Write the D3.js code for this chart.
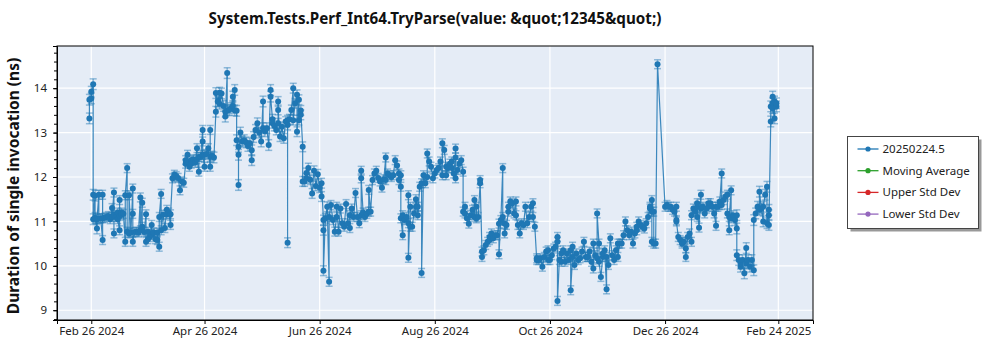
<!DOCTYPE html>
<html>
<head>
<meta charset="utf-8">
<script src="https://cdn.jsdelivr.net/npm/d3@7"></script>
<style>
  body { margin: 0; background: #fff; }
  svg { font-family: "Noto Sans", "Open Sans", sans-serif; }
</style>
</head>
<body>
<div id="chart"></div>
<script>
// one entry per day that had runs; durations[i] holds the runs of runDates[i] (ns)
var runDates = [
  "2024-02-25","2024-02-26","2024-02-27","2024-02-28","2024-02-29",
  "2024-03-01","2024-03-02","2024-03-03","2024-03-04","2024-03-05","2024-03-06","2024-03-07","2024-03-08","2024-03-09","2024-03-10","2024-03-11","2024-03-12","2024-03-13","2024-03-14","2024-03-15",
  "2024-03-16","2024-03-17","2024-03-18","2024-03-19","2024-03-20","2024-03-21","2024-03-22","2024-03-23","2024-03-24","2024-03-25","2024-03-26","2024-03-27","2024-03-28","2024-03-29","2024-03-30","2024-03-31",
  "2024-04-01","2024-04-02","2024-04-03","2024-04-04","2024-04-05","2024-04-06","2024-04-07","2024-04-08","2024-04-09","2024-04-10","2024-04-11","2024-04-12","2024-04-13","2024-04-14","2024-04-15",
  "2024-04-16","2024-04-17","2024-04-18","2024-04-19","2024-04-20","2024-04-21","2024-04-22","2024-04-23","2024-04-24","2024-04-25","2024-04-26","2024-04-27","2024-04-28","2024-04-29","2024-04-30",
  "2024-05-01","2024-05-02","2024-05-03","2024-05-04","2024-05-05","2024-05-06","2024-05-07","2024-05-08","2024-05-09","2024-05-10","2024-05-11","2024-05-12","2024-05-13","2024-05-14","2024-05-15",
  "2024-05-16","2024-05-17","2024-05-18","2024-05-19","2024-05-20","2024-05-21","2024-05-22","2024-05-23","2024-05-24","2024-05-25","2024-05-26","2024-05-27","2024-05-28","2024-05-29","2024-05-30","2024-05-31",
  "2024-06-01","2024-06-02","2024-06-03","2024-06-04","2024-06-05","2024-06-06","2024-06-07","2024-06-08","2024-06-09","2024-06-10","2024-06-11","2024-06-12","2024-06-13","2024-06-14","2024-06-15",
  "2024-06-16","2024-06-17","2024-06-18","2024-06-19","2024-06-20","2024-06-21","2024-06-22","2024-06-23","2024-06-24","2024-06-25","2024-06-26","2024-06-27","2024-06-28","2024-06-29","2024-06-30",
  "2024-07-01","2024-07-02","2024-07-03","2024-07-04","2024-07-05","2024-07-06","2024-07-07","2024-07-08","2024-07-09","2024-07-10","2024-07-11","2024-07-12","2024-07-13","2024-07-14","2024-07-15",
  "2024-07-16","2024-07-17","2024-07-18","2024-07-19","2024-07-20","2024-07-21","2024-07-22","2024-07-23","2024-07-24","2024-07-25","2024-07-26","2024-07-27","2024-07-28","2024-07-29","2024-07-30","2024-07-31",
  "2024-08-01","2024-08-02","2024-08-03","2024-08-04","2024-08-05","2024-08-06","2024-08-07","2024-08-08","2024-08-09","2024-08-10","2024-08-11","2024-08-12","2024-08-13","2024-08-14","2024-08-15",
  "2024-08-16","2024-08-17","2024-08-18","2024-08-19","2024-08-20","2024-08-21","2024-08-22","2024-08-23","2024-08-24","2024-08-25","2024-08-26","2024-08-27","2024-08-28","2024-08-29","2024-08-30","2024-08-31",
  "2024-09-01","2024-09-02","2024-09-03","2024-09-04","2024-09-05","2024-09-06","2024-09-07","2024-09-08","2024-09-09","2024-09-10","2024-09-11","2024-09-12","2024-09-13","2024-09-14","2024-09-15",
  "2024-09-16","2024-09-17","2024-09-18","2024-09-19","2024-09-20","2024-09-21","2024-09-22","2024-09-23","2024-09-24","2024-09-25","2024-09-26","2024-09-27","2024-09-28","2024-09-29","2024-09-30",
  "2024-10-01","2024-10-02","2024-10-03","2024-10-04","2024-10-05","2024-10-06","2024-10-07","2024-10-08","2024-10-09","2024-10-10","2024-10-11","2024-10-12","2024-10-13","2024-10-14","2024-10-15",
  "2024-10-16","2024-10-17","2024-10-18","2024-10-19","2024-10-20","2024-10-21","2024-10-22","2024-10-23","2024-10-24","2024-10-25","2024-10-26","2024-10-27","2024-10-28","2024-10-29","2024-10-30","2024-10-31",
  "2024-11-01","2024-11-02","2024-11-03","2024-11-04","2024-11-05","2024-11-06","2024-11-07","2024-11-08","2024-11-09","2024-11-10","2024-11-11","2024-11-12","2024-11-13","2024-11-14","2024-11-15",
  "2024-11-16","2024-11-17","2024-11-18","2024-11-19","2024-11-20","2024-11-21","2024-11-22","2024-11-23","2024-11-24","2024-11-25","2024-11-26","2024-11-27","2024-11-28","2024-11-29","2024-11-30",
  "2024-12-01","2024-12-02","2024-12-03","2024-12-04","2024-12-05","2024-12-06","2024-12-07","2024-12-08","2024-12-09","2024-12-10","2024-12-11","2024-12-12","2024-12-13","2024-12-14","2024-12-15",
  "2024-12-16","2024-12-17","2024-12-18","2024-12-19","2024-12-20","2024-12-21","2024-12-22","2024-12-26","2024-12-27","2024-12-28","2024-12-29","2024-12-30","2024-12-31",
  "2025-01-01","2025-01-02","2025-01-03","2025-01-04","2025-01-05","2025-01-06","2025-01-07","2025-01-08","2025-01-09","2025-01-10","2025-01-11","2025-01-12","2025-01-13","2025-01-14","2025-01-15",
  "2025-01-16","2025-01-17","2025-01-18","2025-01-19","2025-01-20","2025-01-21","2025-01-22","2025-01-23","2025-01-24","2025-01-25","2025-01-26","2025-01-27","2025-01-28","2025-01-29","2025-01-30","2025-01-31",
  "2025-02-01","2025-02-02","2025-02-03","2025-02-04","2025-02-05","2025-02-06","2025-02-07","2025-02-08","2025-02-09","2025-02-10","2025-02-11","2025-02-12","2025-02-13","2025-02-14","2025-02-15","2025-02-16","2025-02-17","2025-02-18","2025-02-19","2025-02-20","2025-02-21","2025-02-22","2025-02-23"
];

var durations = [
  [13.32,13.74],[13.77,13.92],[14.09,11.6,11.05],[11.58,11.08],[10.84,11.05],
  [11.6,11.06],[11.07],[10.58,11.6,11.07],[11.08],[11.1],[11.12],[11.05],[11.3,11.1],[11.65,10.73,11.15],[11.1],[11.2,11.05],[10.8,11.48,11.12],[11.2,11.15],[11.17],[10.54,11.59],
  [12.2,10.77],[10.73,11.59],[10.75],[11.74,11.17,10.54],[10.76],[10.77],[10.75],[11.54,10.8],[11.42,10.88],[10.76],[11.16,10.54],[10.6,10.77],[10.65],[10.92,10.7],[10.75],[10.6],
  [10.58,10.75],[10.43,11.1],[11.62,10.8],[11.15],[10.85],[11.26,11.16],[11.2],[10.92,11.16],[11.97],[12.05,12.0],[12.02],[11.98],[11.7],[11.9],[11.87],
  [12.3,12.38],[12.5,12.35],[12.23],[12.38,12.3],[12.4],[12.32],[12.65,12.4],[12.12,12.45],[12.45],[13.06,12.8,12.5],[12.23,12.5],[12.52],[12.65],[12.23,13.06,12.45],[12.48],
  [12.44],[13.47,13.89],[13.7],[13.9,13.65],[13.88],[13.6],[13.47,13.36],[14.34,13.5],[13.51],[13.55],[13.81,13.6],[13.96,13.5],[13.49,12.83],[12.68,11.82,12.5],[13.0],
  [12.8],[12.83],[12.78],[12.7],[12.76],[12.38,12.6],[12.9],[13.06],[13.21],[13.0],[12.8],[13.7,13.1],[13.03],[13.1],[12.72],[13.96,13.81],
  [13.3,13.21],[13.15],[13.06],[13.21,13.7,13.51],[12.91],[13.13],[12.87],[13.25],[13.28,10.52,13.17],[13.3],[13.51],[14.0,13.28],[13.66],[13.85,13.02],[13.74,13.28],
  [13.4,13.5],[12.68,11.9],[11.9],[12.09,11.97],[12.2],[11.94],[11.63],[12.14],[11.8],[12.06],[11.76],[11.56,11.86],[11.03,10.8,9.89],[11.07],[11.33],
  [9.64,11.1],[11.37],[11.03],[10.77],[11.1,11.33],[10.77],[11.29],[10.96],[10.88],[11.39],[10.96],[10.85,11.14],[11.29],[11.1],[11.64],
  [11.1],[10.96],[11.14,12.14,11.97],[11.2],[11.1],[11.17],[11.22,11.71],[11.22],[11.93],[12.08],[12.14],[11.98],[11.9],[11.76],[11.95],[12.44,11.93],
  [12.08],[12.04],[12.0],[12.04],[12.38],[12.26],[12.08,11.93],[11.78,12.04,11.07],[10.69,11.14],[11.03],[11.1],[10.96,11.59,10.18],[11.33,10.88],[10.88],[11.18],
  [11.33,11.5],[11.33,11.14],[11.78],[11.86,9.84],[12.04],[11.86],[12.0,12.53],[12.35],[12.23],[11.97],[12.08],[12.16],[12.2],[12.35],[12.04,12.76],[12.61],
  [12.23,12.04],[12.2],[12.3],[12.35,12.2],[12.08],[12.44,12.64,11.97],[12.16],[12.3],[12.38],[12.12,11.22],[11.33,11.18],[11.07],[10.95],[11.14],[11.26],
  [11.1,11.48],[11.33,11.07],[11.1],[11.86,11.93],[10.32,10.2],[10.35],[10.47],[10.54],[10.58,10.65],[10.73],[10.62],[10.69],[10.69],[10.95,10.26],[11.03],
  [12.2,11.1],[10.95,10.73],[10.92],[11.22,11.33],[11.45],[11.41],[11.18],[11.45,11.14],[10.92],[10.73],[10.96],[10.92],[11.33],[10.96],[11.1],
  [11.33],[11.41,11.1],[10.88],[10.13,10.17],[10.13],[10.17],[9.98],[10.2],[10.32],[10.35,10.13],[10.13],[10.24],[10.39],[10.43],[10.65,10.54,9.21],[10.13],
  [10.09,10.28],[10.35],[10.09],[10.28],[10.13],[10.35,9.45],[10.2,10.43],[10.02],[10.28],[10.13],[10.17],[10.32],[10.54],[10.2],[10.2,10.2],
  [10.32],[10.09],[9.94,10.5],[10.24],[10.17,11.18],[10.5,10.09],[9.75],[10.2,10.28],[10.35],[9.47,10.2],[10.02],[10.62],[10.24],[10.13],[10.35],
  [10.5,10.2],[10.5],[10.5],[10.69],[11.0],[10.8],[10.69],[10.77],[10.5],[10.73],[10.8,10.88],[11.0],[10.92],[10.88],[10.84],
  [10.96],[11.1],[11.29,11.33],[11.22,10.54,11.48],[11.22,10.5],[10.5],[14.54],[11.33],[11.37],[11.33],[11.33],[11.26],[11.22],
  [11.03,11.33,11.0],[10.65],[10.58],[10.54,10.5],[10.54],[10.39,10.2],[10.65],[10.73],[10.54,11.14],[11.29],[11.22],[11.33,11.1,11.41],[10.86],[11.6,11.29],[11.33],
  [11.18],[11.29],[11.33,11.41],[11.41],[11.33],[11.18],[10.9,11.33],[11.33],[11.37,11.45],[12.08,11.37],[11.48],[11.56],[11.6,11.18],[10.8,11.1],[11.7,11.07],[11.14],
  [11.03],[10.84,11.14,10.24],[10.13],[9.98,10.05],[10.13],[9.83],[10.4,10.05],[10.13],[9.98],[10.13],[9.9,11.03],[11.18],[11.33],[11.26,11.67],[11.29],[11.0,11.33],[11.6],[11.78,10.96],[11.26,11.14,10.92],[13.25,13.59],[13.81,13.66,13.55],[13.32,13.7],[13.59,13.66]
];

// typical half height of the error bars, Feb 2024 .. Feb 2025
var spreadByMonth = [0.12, 0.1, 0.1, 0.12, 0.11, 0.1, 0.1, 0.1, 0.1, 0.1, 0.1, 0.1, 0.12];

var xTickDates = ["2024-02-26","2024-04-26","2024-06-26","2024-08-26","2024-10-26","2024-12-26","2025-02-24"];
var yTicks = [9, 10, 11, 12, 13, 14];

var legendNames = ["20250224.5", "Moving Average", "Upper Std Dev", "Lower Std Dev"];
var legendColors = ["#1f77b4", "#2ca02c", "#d62728", "#9467bd"];

var chartTitle = "System.Tests.Perf_Int64.TryParse(value: &quot;12345&quot;)";
var yLabel = "Duration of single invocation (ns)";

function drawChart() {
    if (runDates.length !== durations.length) {
        throw new Error("runDates/durations length mismatch: " + runDates.length + " vs " + durations.length);
    }

    var W = 1000, H = 350;
    var margin = { top: 46, right: 187, bottom: 30, left: 57 };
    var width = W - margin.left - margin.right;
    var height = H - margin.top - margin.bottom;
    var blue = legendColors[0];

    var parse = d3.timeParse("%Y-%m-%d");

    // flatten day -> runs
    var points = [];
    runDates.forEach(function (ds, i) {
        var dt = parse(ds);
        var s = spreadByMonth[(dt.getFullYear() - 2024) * 12 + dt.getMonth() - 1];
        durations[i].forEach(function (v) {
            points.push({ date: dt, value: v, err: s });
        });
    });

    var tickDates = xTickDates.map(parse);

    // axis runs a bit past the first and last tick on both sides
    var x = d3.scaleTime()
        .domain([d3.timeHour.offset(tickDates[0], -436), d3.timeHour.offset(tickDates[6], 441)])
        .range([0, width]);

    var y = d3.scaleLinear()
        .domain([8.78, 14.95])
        .range([height, 0]);

    var svg = d3.select("#chart").append("svg")
        .attr("width", W)
        .attr("height", H);

    svg.append("text")
        .attr("x", margin.left + width / 2)
        .attr("y", 24)
        .attr("text-anchor", "middle")
        .attr("font-size", 15.2)
        .attr("font-weight", "bold")
        .attr("fill", "#111")
        .text(chartTitle);

    svg.append("text")
        .attr("transform", "translate(19," + (margin.top + height / 2 + 3) + ") rotate(-90)")
        .attr("text-anchor", "middle")
        .attr("font-size", 15.5)
        .attr("font-weight", "bold")
        .attr("fill", "#111")
        .text(yLabel);

    var g = svg.append("g")
        .attr("transform", "translate(" + margin.left + "," + margin.top + ")");

    g.append("rect")
        .attr("width", width)
        .attr("height", height)
        .attr("fill", "#e5ecf6");

    // grid
    g.selectAll("line.hgrid")
        .data(yTicks)
        .enter().append("line")
        .attr("class", "hgrid")
        .attr("x1", 0).attr("x2", width)
        .attr("y1", function (d) { return y(d); })
        .attr("y2", function (d) { return y(d); })
        .attr("stroke", "#fff")
        .attr("stroke-width", 1.2);

    g.selectAll("line.vgrid")
        .data(tickDates)
        .enter().append("line")
        .attr("class", "vgrid")
        .attr("y1", 0).attr("y2", height)
        .attr("x1", function (d) { return x(d); })
        .attr("x2", function (d) { return x(d); })
        .attr("stroke", "#fff")
        .attr("stroke-width", 1.2);

    var plot = g.append("g");

    // connecting line
    var line = d3.line()
        .x(function (d) { return x(d.date); })
        .y(function (d) { return y(d.value); });

    plot.append("path")
        .datum(points)
        .attr("fill", "none")
        .attr("stroke", blue)
        .attr("stroke-opacity", 0.85)
        .attr("stroke-width", 1.2)
        .attr("d", line);

    // error bars
    var bars = plot.selectAll("g.err")
        .data(points)
        .enter().append("g")
        .attr("class", "err")
        .attr("stroke", blue)
        .attr("stroke-opacity", 0.45)
        .attr("stroke-width", 1.5);

    bars.append("line")
        .attr("x1", function (d) { return x(d.date); })
        .attr("x2", function (d) { return x(d.date); })
        .attr("y1", function (d) { return y(d.value - d.err); })
        .attr("y2", function (d) { return y(d.value + d.err); });

    bars.append("line")
        .attr("x1", function (d) { return x(d.date) - 3.5; })
        .attr("x2", function (d) { return x(d.date) + 3.5; })
        .attr("y1", function (d) { return y(d.value + d.err); })
        .attr("y2", function (d) { return y(d.value + d.err); });

    bars.append("line")
        .attr("x1", function (d) { return x(d.date) - 3.5; })
        .attr("x2", function (d) { return x(d.date) + 3.5; })
        .attr("y1", function (d) { return y(d.value - d.err); })
        .attr("y2", function (d) { return y(d.value - d.err); });

    plot.selectAll("circle")
        .data(points)
        .enter().append("circle")
        .attr("cx", function (d) { return x(d.date); })
        .attr("cy", function (d) { return y(d.value); })
        .attr("r", 3)
        .attr("fill", blue);

    // axes
    var xAxis = g.append("g")
        .attr("transform", "translate(0," + height + ")")
        .call(d3.axisBottom(x)
            .tickValues(tickDates)
            .tickSize(4)
            .tickFormat(d3.timeFormat("%b %d %Y")));

    var yAxis = g.append("g")
        .call(d3.axisLeft(y).tickValues(yTicks).tickSize(4).tickPadding(6).tickFormat(d3.format("d")));

    // minor y ticks every 0.2
    g.append("g")
        .call(d3.axisLeft(y).tickValues(d3.range(44, 75).map(function (k) { return k / 5; }))
            .tickSize(3).tickFormat(""))
        .select(".domain").remove();

    [xAxis, yAxis].forEach(function (a) {
        a.selectAll("text")
            .attr("font-size", 11.5)
            .attr("font-family", "'Noto Sans', sans-serif")
            .attr("fill", "#222");
    });
    g.selectAll(".tick line").attr("stroke", "#000");

    // frame
    g.append("rect")
        .attr("width", width)
        .attr("height", height)
        .attr("fill", "none")
        .attr("stroke", "#000")
        .attr("stroke-width", 1);

    // legend
    var lg = svg.append("g").attr("transform", "translate(847.5,136.5)");
    lg.append("rect")
        .attr("x", 3).attr("y", 3)
        .attr("width", 131).attr("height", 92)
        .attr("fill", "#999");
    lg.append("rect")
        .attr("width", 131).attr("height", 92)
        .attr("fill", "#fff")
        .attr("stroke", "#444");

    var items = lg.selectAll("g.item")
        .data(legendNames)
        .enter().append("g")
        .attr("class", "item")
        .attr("transform", function (d, i) { return "translate(0," + (12.5 + i * 21.7) + ")"; });

    items.append("line")
        .attr("x1", 10).attr("x2", 31)
        .attr("stroke", function (d, i) { return legendColors[i]; })
        .attr("stroke-width", 1.3);
    items.append("circle")
        .attr("cx", 20.5).attr("r", 2.6)
        .attr("fill", function (d, i) { return legendColors[i]; });
    items.append("text")
        .attr("x", 35)
        .attr("dy", "0.35em")
        .attr("font-size", 11.5)
        .attr("fill", "#222")
        .text(function (d) { return d; });
}

drawChart();
</script>
</body>
</html>
